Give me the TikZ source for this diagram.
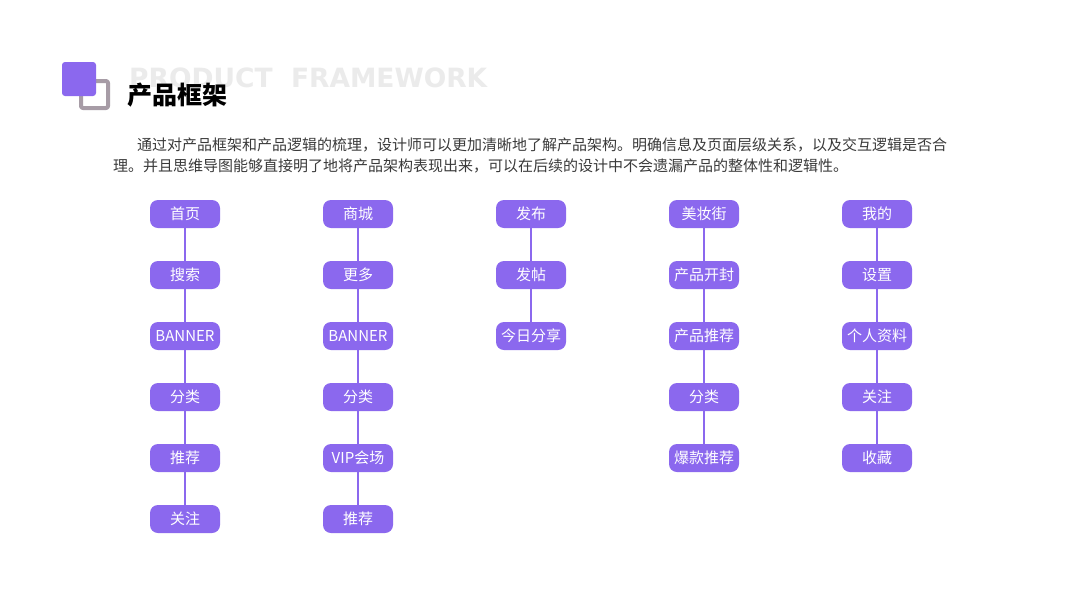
\documentclass[tikz,border=0pt]{standalone}
\usepackage{fontspec}
\setmainfont{Noto Sans CJK SC}
\newfontfamily\headfont{DejaVu Sans}
\usetikzlibrary{positioning}
\definecolor{mainpurple}{HTML}{8B68EE}
\definecolor{logogray}{HTML}{A79CA6}
\definecolor{ghostgray}{HTML}{EBEBEB}
\definecolor{bodytext}{HTML}{3A3A3A}

\begin{document}
\begin{tikzpicture}[x=1pt, y=-1pt, line join=round, line cap=round]
   % Styles
   \tikzset{
    item/.style={rectangle, rounded corners=8pt, fill=mainpurple, text=white,
      minimum width=70pt, minimum height=28pt, inner sep=0pt, font=\fontsize{15}{15}\selectfont},
    link/.style={line width=2pt, mainpurple},
    para/.style={anchor=base west, inner sep=0pt, text=bodytext, font=\fontsize{15}{15}\selectfont}
   }
  % Canvas
  \useasboundingbox[fill=white] (0,0) rectangle (1067,600);
  % Logo and heading
  \draw[logogray, line width=4pt, rounded corners=2pt] (81,81) rectangle (108,108);
  \fill[mainpurple, rounded corners=3pt] (62,62) rectangle (96,96);
  \node[anchor=base west, inner sep=0pt, text=ghostgray, font=\headfont\bfseries\fontsize{26.5}{26.5}\selectfont]
    (ghost) at (129,87) {PRODUCT\ \ FRAMEWORK};
  \node[anchor=base west, inner sep=0pt, font=\bfseries\fontsize{25}{25}\selectfont]
    (title) at (127,104) {产品框架};
  \node[para] (line1) at (137,150) {通过对产品框架和产品逻辑的梳理，设计师可以更加清晰地了解产品架构。明确信息及页面层级关系，以及交互逻辑是否合};
  \node[para] (line2) at (113,171) {理。并且思维导图能够直接明了地将产品架构表现出来，可以在后续的设计中不会遗漏产品的整体性和逻辑性。};
  % Nodes: 首页
  \node[item] (home)     at (185,214) {首页};
  \node[item] (search)   at (185,275) {搜索};
  \node[item] (bannera)  at (185,336) {BANNER};
  \node[item] (cata)     at (185,397) {分类};
  \node[item] (reca)     at (185,458) {推荐};
  \node[item] (followa)  at (185,519) {关注};
  % Nodes: 商城
  \node[item] (mall)     at (358,214) {商城};
  \node[item] (more)     at (358,275) {更多};
  \node[item] (bannerb)  at (358,336) {BANNER};
  \node[item] (catb)     at (358,397) {分类};
  \node[item] (vip)      at (358,458) {VIP会场};
  \node[item] (recb)     at (358,519) {推荐};
  % Nodes: 发布
  \node[item] (post)     at (531,214) {发布};
  \node[item] (thread)   at (531,275) {发帖};
  \node[item] (share)    at (531,336) {今日分享};
  % Nodes: 美妆街
  \node[item] (beauty)   at (704,214) {美妆街};
  \node[item] (unbox)    at (704,275) {产品开封};
  \node[item] (prodrec)  at (704,336) {产品推荐};
  \node[item] (catd)     at (704,397) {分类};
  \node[item] (hot)      at (704,458) {爆款推荐};
  % Nodes: 我的
  \node[item] (mine)     at (877,214) {我的};
  \node[item] (settings) at (877,275) {设置};
  \node[item] (profile)  at (877,336) {个人资料};
  \node[item] (followe)  at (877,397) {关注};
  \node[item] (fav)      at (877,458) {收藏};
  % Edges
  \draw[link] (home)--(search)--(bannera)--(cata)--(reca)--(followa);
  \draw[link] (mall)--(more)--(bannerb)--(catb)--(vip)--(recb);
  \draw[link] (post)--(thread)--(share);
  \draw[link] (beauty)--(unbox)--(prodrec)--(catd)--(hot);
  \draw[link] (mine)--(settings)--(profile)--(followe)--(fav);
\end{tikzpicture}
\end{document}
